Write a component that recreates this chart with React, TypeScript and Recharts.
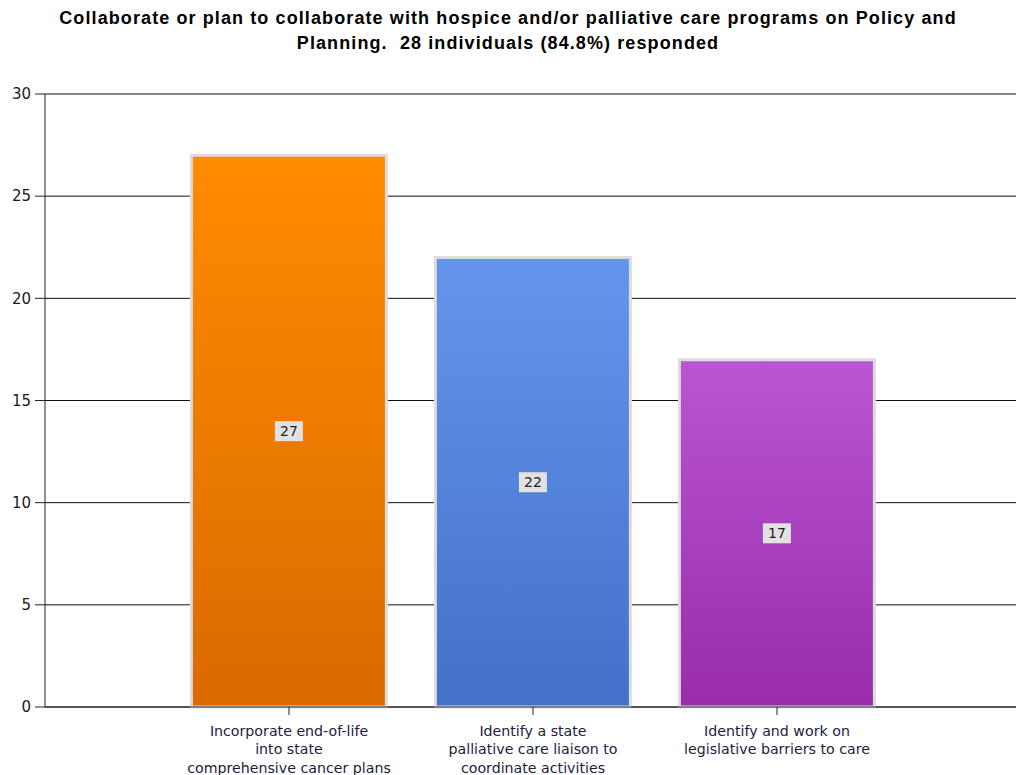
import React from "react";
import {
  BarChart,
  Bar,
  XAxis,
  YAxis,
  CartesianGrid,
  Cell,
  LabelList,
} from "recharts";

const categories = [
  "Incorporate end-of-life\ninto state\ncomprehensive cancer plans",
  "Identify a state\npalliative care liaison to\ncoordinate activities",
  "Identify and work on\nlegislative barriers to care",
];
const counts = [27, 22, 17];
const yTicks = [0, 5, 10, 15, 20, 25, 30];

// top / bottom gradient colours per bar
const topColors = ["#FF8C00", "#6495ED", "#BA55D3"];
const bottomColors = ["#DA6A00", "#4471C8", "#982CAD"];

const data = categories.map((name, i) => ({ name, value: counts[i] }));

const AXIS_FONT = "'DejaVu Sans', Verdana, sans-serif";

function CategoryTick(props: any) {
  const { x, y, payload } = props;
  const lines = String(payload.value).split("\n");
  return (
    <text
      x={x}
      y={y + 8}
      textAnchor="middle"
      fill="#1c1c3c"
      fontSize={14.2}
      fontFamily={AXIS_FONT}
    >
      {lines.map((l, i) => (
        <tspan key={i} x={x} dy={i === 0 ? 10.5 : 18.8}>
          {l}
        </tspan>
      ))}
    </text>
  );
}

function ValueBox(props: any) {
  const { x, y, width, height, value } = props;
  const cx = x + width / 2;
  const cy = y + height / 2;
  return (
    <g>
      <rect x={cx - 14} y={cy - 10} width={28} height={20} fill="#E2E2E2" />
      <text
        x={cx}
        y={cy + 5}
        textAnchor="middle"
        fontSize={14}
        fontFamily={AXIS_FONT}
        fill="#222"
      >
        {value}
      </text>
    </g>
  );
}

export default function App() {
  return (
    <div
      style={{
        position: "fixed",
        top: 0,
        left: 0,
        width: 1016,
        height: 775,
        overflow: "hidden",
        background: "#fff",
      }}
    >
      <div
        style={{
          position: "absolute",
          top: 6,
          left: 0,
          width: 1016,
          textAlign: "center",
          fontFamily: "'Liberation Sans', Arial, sans-serif",
          fontWeight: "bold",
          fontSize: 18,
          letterSpacing: 1.1,
          lineHeight: "25px",
          color: "#000",
        }}
      >
        Collaborate or plan to collaborate with hospice and/or palliative care
        programs on Policy and
        <br />
        Planning.&nbsp; 28 individuals (84.8%) responded
      </div>
      <BarChart
        width={1021}
        height={775}
        data={data}
        margin={{ top: 94, right: 0, left: 0, bottom: 0 }}
        barCategoryGap="10%"
      >
        <defs>
          {topColors.map((c, i) => (
            <linearGradient key={i} id={`grad${i}`} x1="0" y1="0" x2="0" y2="1">
              <stop offset="0%" stopColor={c} />
              <stop offset="100%" stopColor={bottomColors[i]} />
            </linearGradient>
          ))}
        </defs>
        <CartesianGrid horizontal vertical={false} stroke="#111" strokeWidth={1} />
        <XAxis
          dataKey="name"
          height={68}
          padding={{ left: 122, right: 122 }}
          interval={0}
          tick={<CategoryTick />}
          tickSize={8}
          stroke="#222"
          tickLine={{ stroke: "#222" }}
        />
        <YAxis
          domain={[0, 30]}
          ticks={yTicks}
          width={45}
          tickSize={10}
          tickMargin={4}
          stroke="#222"
          tick={{ fill: "#1a1a1a", fontSize: 15, fontFamily: AXIS_FONT }}
        />
        <Bar
          dataKey="value"
          isAnimationActive={false}
          stroke="#DCDCDC"
          strokeWidth={3}
        >
          {data.map((_, i) => (
            <Cell key={i} fill={`url(#grad${i})`} />
          ))}
          <LabelList dataKey="value" content={<ValueBox />} />
        </Bar>
      </BarChart>
    </div>
  );
}
